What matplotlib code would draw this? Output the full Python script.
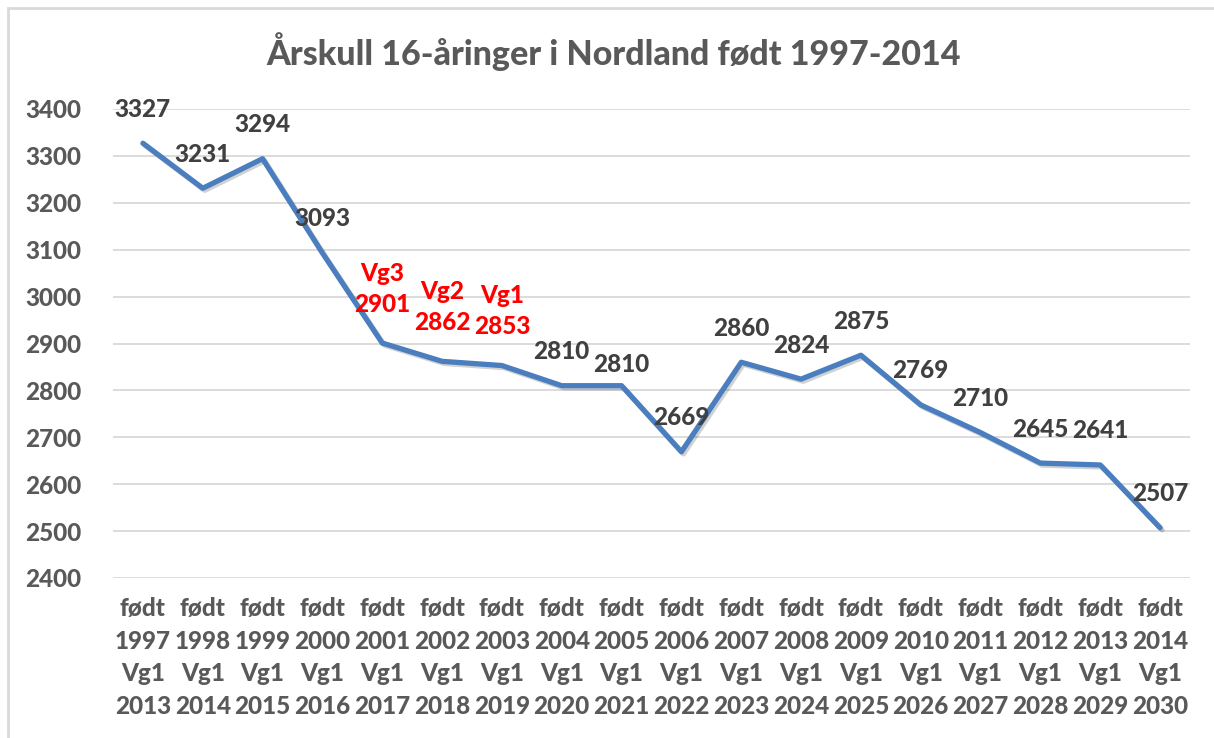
import matplotlib
matplotlib.use("Agg")
import matplotlib.pyplot as plt
import matplotlib.patches as patches
import matplotlib.patheffects as pe

# Data
birth_years = [1997, 1998, 1999, 2000, 2001, 2002, 2003, 2004, 2005,
               2006, 2007, 2008, 2009, 2010, 2011, 2012, 2013, 2014]
vg1_years = [2013, 2014, 2015, 2016, 2017, 2018, 2019, 2020, 2021,
             2022, 2023, 2024, 2025, 2026, 2027, 2028, 2029, 2030]
cohort = [3327, 3231, 3294, 3093, 2901, 2862, 2853, 2810, 2810,
          2669, 2860, 2824, 2875, 2769, 2710, 2645, 2641, 2507]
# current school levels highlighted in red
highlight = {2001: "Vg3", 2002: "Vg2", 2003: "Vg1"}

TITLE = "Årskull 16-åringer i Nordland født 1997-2014"
LINE_COLOR = "#4A7EBF"
LABEL_COLOR = "#404040"
AXIS_COLOR = "#595959"
GRID_COLOR = "#D9D9D9"
WEIGHT = 'black'
FS = 17.5

plt.rcParams['font.family'] = ['Lato', 'DejaVu Sans']
plt.rcParams['font.weight'] = WEIGHT

fig = plt.figure(figsize=(12.14, 7.38), dpi=100)
ax = fig.add_axes([113 / 1214, 1 - 578 / 738, (1190 - 113) / 1214, (578 - 109) / 738])

# outer chart border
fig.patches.append(patches.Rectangle((8 / 1214, -0.05), 1.2, 1.05 - 8 / 738,
                                     transform=fig.transFigure, fill=False,
                                     edgecolor="#D9D9D9", linewidth=2))

x = list(range(len(cohort)))
ax.plot(x, cohort, color=LINE_COLOR, linewidth=3.8, solid_joinstyle='round',
        solid_capstyle='round',
        path_effects=[pe.SimpleLineShadow(offset=(1.5, -1.5), alpha=0.18, shadow_color='black'),
                      pe.Normal()], zorder=3)

ax.set_xlim(-0.5, len(cohort) - 0.5)
ax.set_ylim(2400, 3400)
ax.set_yticks(range(2400, 3401, 100))
ax.yaxis.grid(True, color=GRID_COLOR, linewidth=1.3)
ax.set_axisbelow(True)
for s in ax.spines.values():
    s.set_visible(False)
ax.tick_params(length=0, labelsize=FS, labelcolor=AXIS_COLOR)
ax.tick_params(axis='y', pad=23)
ax.tick_params(axis='x', pad=14)

ax.set_xticks(x)
ax.set_xticklabels([f"født\n{b}\nVg1\n{v}" for b, v in zip(birth_years, vg1_years)],
                   linespacing=1.5, va='top', fontweight=WEIGHT)
for t in ax.get_yticklabels():
    t.set_fontweight(WEIGHT)

# data labels
offsets = {2005: 21}
for xi, b, v in zip(x, birth_years, cohort):
    off = offsets.get(b, 34)
    if b in highlight:
        ax.annotate(str(v), (xi, v), xytext=(0, off + 5), textcoords='offset pixels',
                    ha='center', va='center', fontsize=FS, color='red', fontweight=WEIGHT)
        ax.annotate(highlight[b], (xi, v), xytext=(0, off + 36), textcoords='offset pixels',
                    ha='center', va='center', fontsize=FS, color='red', fontweight=WEIGHT)
    else:
        ax.annotate(str(v), (xi, v), xytext=(0, off), textcoords='offset pixels',
                    ha='center', va='center', fontsize=FS, color=LABEL_COLOR,
                    fontweight=WEIGHT, zorder=4)

fig.text(614 / 1214, 1 - 52 / 738, TITLE, ha='center', va='center',
         fontsize=24.5, color=AXIS_COLOR, fontweight=WEIGHT)

fig.savefig("out.png", dpi=100, facecolor='white')
